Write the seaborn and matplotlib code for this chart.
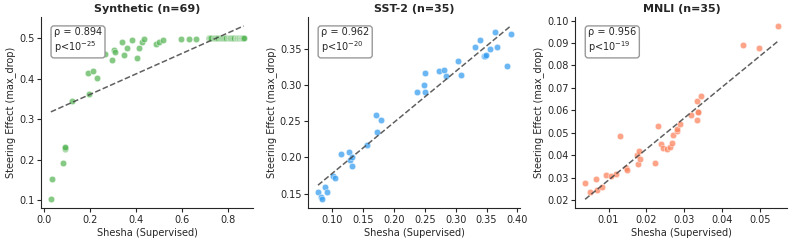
import numpy as np
import pandas as pd
import matplotlib
matplotlib.use("Agg")
import matplotlib.pyplot as plt
import seaborn as sns

# -------------------------------
# Data
# -------------------------------
titles = ["Synthetic (n=69)", "SST-2 (n=35)", "MNLI (n=35)"]
rho_labels = ["0.894", "0.962", "0.956"]
p_exponents = ["-25", "-20", "-19"]
colors = ["#5cb85c", "#3a9ff0", "#fb8560"]

synthetic_x = [0.030, 0.037, 0.085, 0.090, 0.092, 0.093, 0.120, 0.195, 0.190, 0.213,
               0.230, 0.240, 0.265, 0.298, 0.305, 0.308, 0.340, 0.350, 0.360, 0.385,
               0.405, 0.413, 0.427, 0.437, 0.487, 0.500, 0.518, 0.597, 0.632, 0.662,
               0.718, 0.720, 0.722, 0.725, 0.728, 0.740, 0.745, 0.750, 0.752, 0.760,
               0.765, 0.770, 0.775, 0.780, 0.785, 0.790, 0.795, 0.800, 0.805, 0.810,
               0.812, 0.815, 0.820, 0.825, 0.830, 0.835, 0.840, 0.842, 0.845, 0.850,
               0.852, 0.855, 0.858, 0.860, 0.862, 0.865, 0.866, 0.868, 0.870]
synthetic_y = [0.102, 0.152, 0.192, 0.226, 0.230, 0.232, 0.346, 0.361, 0.415, 0.420,
               0.402, 0.461, 0.462, 0.446, 0.472, 0.466, 0.490, 0.458, 0.476, 0.496,
               0.452, 0.476, 0.490, 0.497, 0.485, 0.490, 0.496, 0.499, 0.497, 0.499,
               0.500, 0.500, 0.500, 0.500, 0.500, 0.500, 0.500, 0.500, 0.500, 0.500,
               0.500, 0.500, 0.500, 0.500, 0.500, 0.500, 0.500, 0.500, 0.500, 0.500,
               0.500, 0.500, 0.500, 0.500, 0.500, 0.500, 0.500, 0.500, 0.500, 0.500,
               0.500, 0.500, 0.500, 0.500, 0.500, 0.500, 0.500, 0.500, 0.500]

sst2_x = [0.077, 0.082, 0.083, 0.088, 0.092, 0.101, 0.105, 0.115, 0.127, 0.129,
          0.132, 0.132, 0.157, 0.171, 0.173, 0.179, 0.238, 0.248, 0.250, 0.251,
          0.273, 0.281, 0.285, 0.303, 0.308, 0.331, 0.340, 0.345, 0.348, 0.349,
          0.356, 0.363, 0.367, 0.383, 0.389]
sst2_y = [0.152, 0.145, 0.142, 0.159, 0.152, 0.174, 0.172, 0.204, 0.208, 0.197,
          0.201, 0.188, 0.217, 0.259, 0.235, 0.251, 0.290, 0.300, 0.317, 0.290,
          0.320, 0.321, 0.312, 0.333, 0.314, 0.352, 0.362, 0.340, 0.340, 0.342,
          0.350, 0.374, 0.353, 0.327, 0.370]

mnli_x = [0.0038, 0.0052, 0.0067, 0.0070, 0.0083, 0.0094, 0.0107, 0.0119, 0.0131, 0.0146,
          0.0148, 0.0175, 0.0177, 0.0181, 0.0182, 0.0224, 0.0230, 0.0238, 0.0243, 0.0256,
          0.0262, 0.0267, 0.0271, 0.0281, 0.0281, 0.0288, 0.0318, 0.0333, 0.0335, 0.0337,
          0.0346, 0.0455, 0.0497, 0.0548, 0.0338]
mnli_y = [0.0277, 0.0234, 0.0295, 0.0246, 0.0257, 0.0313, 0.0309, 0.0318, 0.0487, 0.0343,
          0.0334, 0.0400, 0.0362, 0.0419, 0.0382, 0.0366, 0.0529, 0.0448, 0.0430, 0.0428,
          0.0435, 0.0452, 0.0488, 0.0508, 0.0515, 0.0538, 0.0577, 0.0557, 0.0642, 0.0591,
          0.0664, 0.0890, 0.0879, 0.0976, 0.0592]

datasets = [(synthetic_x, synthetic_y), (sst2_x, sst2_y), (mnli_x, mnli_y)]

# -------------------------------
# Plot
# -------------------------------
sns.set_style("ticks")
plt.rcParams["font.family"] = ["DejaVu Sans"]

fig, axes = plt.subplots(1, 3, figsize=(7.93, 2.47), dpi=100)
fig.subplots_adjust(left=0.052, right=0.993, bottom=0.158, top=0.93, wspace=0.26)

for ax, (xs, ys), title, rho, pexp, color in zip(axes, datasets, titles, rho_labels, p_exponents, colors):
    df = pd.DataFrame({"x": xs, "y": ys})
    sns.scatterplot(data=df, x="x", y="y", ax=ax, color=color, alpha=0.75,
                    s=22, edgecolor="white", linewidth=0.4)

    # least squares fit line
    slope, intercept = np.polyfit(df["x"], df["y"], 1)
    xx = np.array([df["x"].min(), df["x"].max()])
    ax.plot(xx, slope * xx + intercept, linestyle="--", color="#444444",
            alpha=0.85, linewidth=1.1)

    ax.text(0.06, 0.95, f"ρ = {rho}\np<$10^{{{pexp}}}$", transform=ax.transAxes,
            fontsize=7, va="top", ha="left",
            bbox=dict(boxstyle="round,pad=0.3", facecolor="white", edgecolor="#999999"))

    ax.set_title(title, fontsize=8, fontweight="bold", pad=4)
    ax.set_xlabel("Shesha (Supervised)", fontsize=7, labelpad=2)
    ax.set_ylabel("Steering Effect (max_drop)", fontsize=7, labelpad=2)
    ax.tick_params(labelsize=7, length=3, pad=2)
    sns.despine(ax=ax)

axes[0].set_xticks([0.0, 0.2, 0.4, 0.6, 0.8])
axes[0].set_yticks([0.1, 0.2, 0.3, 0.4, 0.5])
axes[1].set_xticks([0.10, 0.15, 0.20, 0.25, 0.30, 0.35, 0.40])
axes[1].set_yticks([0.15, 0.20, 0.25, 0.30, 0.35])
axes[2].set_xticks([0.01, 0.02, 0.03, 0.04, 0.05])
axes[2].set_yticks([0.02, 0.03, 0.04, 0.05, 0.06, 0.07, 0.08, 0.09, 0.10])

fig.savefig("out.png", dpi=100)
